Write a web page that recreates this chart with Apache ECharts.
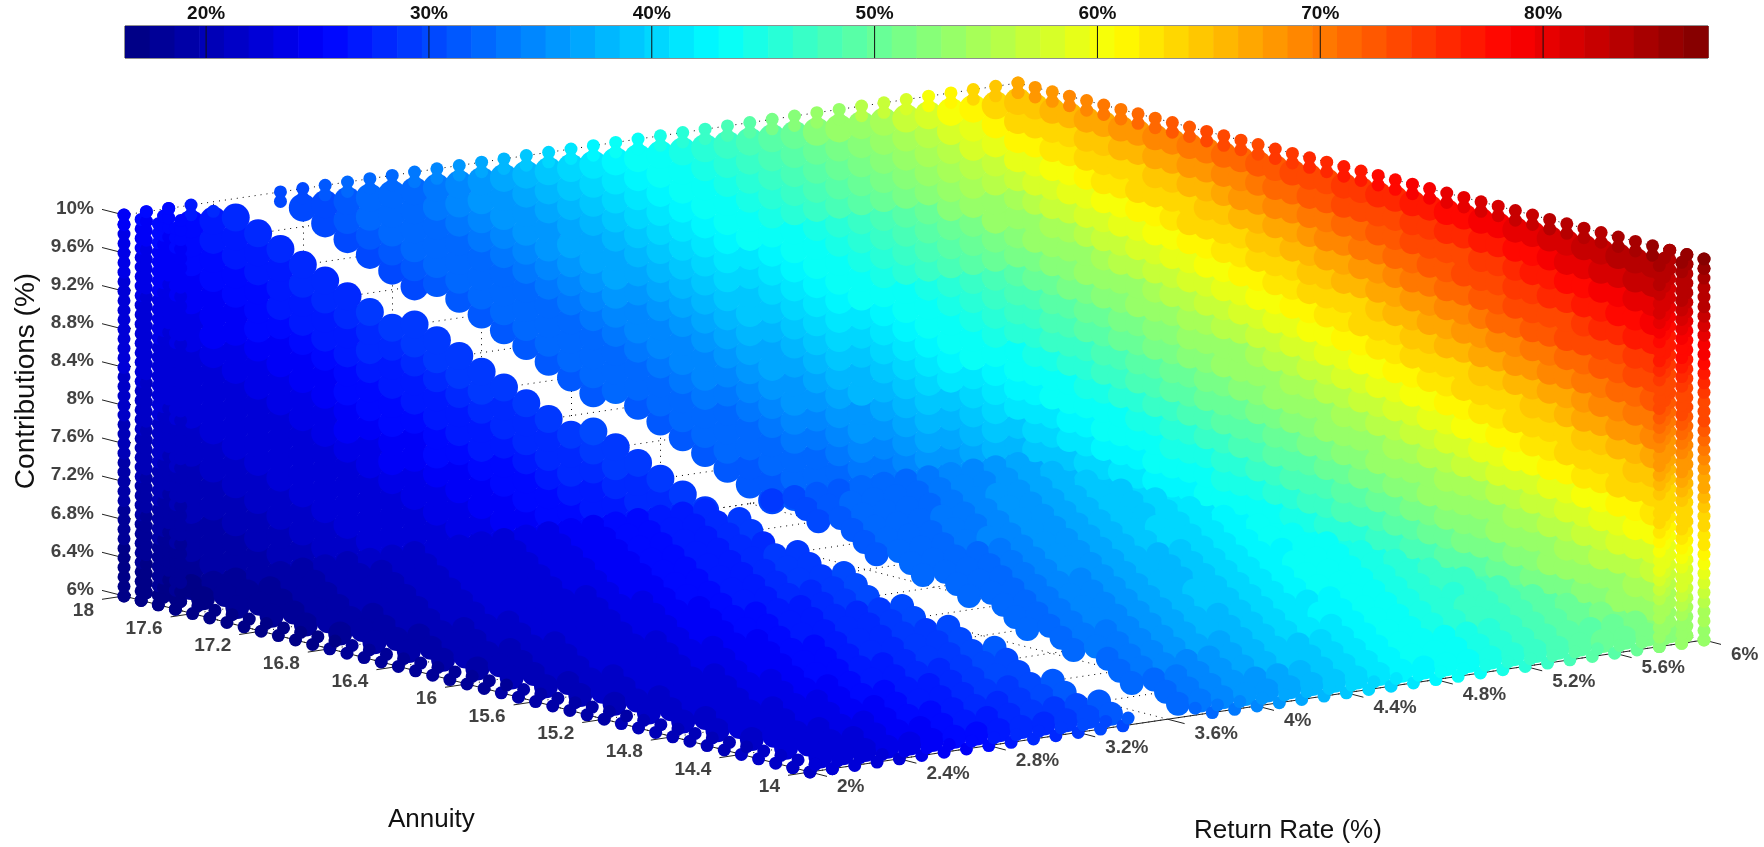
<!DOCTYPE html>
<html><head><meta charset="utf-8"><style>html,body{margin:0;padding:0;background:#fff}#c{width:1764px;height:847px}</style>
<script src="https://cdn.jsdelivr.net/npm/echarts@6/dist/echarts.min.js"></script></head><body><div id="c"></div>
<script>
const annuityTicks=[18,17.6,17.2,16.8,16.4,16,15.6,15.2,14.8,14.4,14];
const returnTicks=[2,2.4,2.8,3.2,3.6,4,4.4,4.8,5.2,5.6,6];
const contribTicks=[6,6.4,6.8,7.2,7.6,8,8.4,8.8,9.2,9.6,10];
const colorbarTicks=[20,30,40,50,60,70,80];
const valueMin=16.36,valueMax=87.4;
// missing band: [contributions, return] on annuity=18 wall and [annuity, return] on floor
const gapOnWall=[[10,2.5],[6,4.78]];
const gapOnFloor=[[14,3.6],[18,4.78]];
// annuity=18 wall: rows contributions 6.0..9.8 step .2, cols return 2.3..6.0 step .1
const wallA=[
[18,18,18,19,19,20,20,21,21,22,22,22,23,23,24,24,25,25,26,26,27,27,28,29,29,30,30,31,32,32,33,33,34,35,35,36,36,37],
[18,19,19,19,20,20,21,21,22,22,23,23,24,24,25,25,26,26,27,27,28,28,29,29,30,31,31,32,33,33,34,34,35,36,36,37,38,38],
[19,19,19,20,20,21,21,22,22,23,23,24,24,25,25,26,26,27,27,28,28,29,30,30,31,31,32,33,33,34,35,35,36,37,37,38,39,39],
[19,19,20,20,21,21,22,22,23,23,24,24,25,25,26,26,27,28,28,29,29,30,31,31,32,32,33,34,34,35,36,36,37,38,38,39,40,41],
[20,20,20,21,21,22,22,23,23,24,24,25,25,26,26,27,28,28,29,29,30,30,31,32,32,33,34,35,35,36,36,37,38,39,39,40,41,42],
[20,20,21,21,22,22,23,23,24,25,25,26,26,27,27,28,28,29,30,30,31,31,32,33,33,34,35,36,36,37,38,38,39,40,41,41,42,43],
[20,21,21,22,22,23,23,24,24,25,25,26,27,27,28,28,29,30,30,31,31,32,33,34,34,35,36,36,37,38,38,39,40,41,42,43,43,44],
[21,21,22,22,23,23,24,25,25,26,26,27,27,28,28,29,30,30,31,32,32,33,34,35,35,36,37,37,38,39,39,40,41,42,43,44,45,46],
[21,22,22,23,23,24,24,25,26,26,27,27,28,29,29,30,30,31,32,32,33,34,35,35,36,37,37,38,39,40,40,41,42,43,44,45,46,47],
[22,22,23,23,24,24,25,26,26,27,27,28,29,29,30,31,31,32,33,33,34,35,35,36,37,38,38,39,40,41,41,42,43,44,45,46,47,48],
[22,23,23,24,24,25,25,26,27,27,28,29,29,30,31,31,32,33,33,34,35,35,36,37,38,39,39,40,41,42,43,43,44,45,46,47,48,49],
[23,23,24,24,25,25,26,27,28,28,29,29,30,31,31,32,33,33,34,35,35,36,37,38,39,39,40,41,42,43,44,45,46,47,48,49,50,51],
[23,24,24,25,25,26,27,27,28,29,29,30,31,31,32,33,33,34,35,36,36,37,38,39,40,40,41,42,43,44,45,46,47,48,49,50,51,52],
[24,25,25,26,26,27,27,28,29,29,30,31,31,32,33,33,34,35,36,37,37,38,39,40,41,41,42,43,44,45,46,47,48,49,50,51,53,54],
[24,25,25,26,27,27,28,28,29,30,30,31,32,33,33,34,35,36,37,37,38,39,40,41,42,43,43,44,45,46,47,48,49,50,52,53,54,55],
[25,25,26,26,27,28,28,29,30,30,31,32,33,33,34,35,36,37,37,38,39,40,41,42,43,44,45,46,47,48,49,50,51,52,53,55,56,57],
[25,26,26,27,27,28,29,30,30,31,32,32,33,34,35,36,36,37,38,39,40,41,42,43,44,45,46,47,48,49,50,51,52,53,55,56,57,59],
[26,26,27,27,28,29,29,30,31,32,32,33,34,35,36,36,37,38,39,40,41,42,43,44,45,46,47,48,49,50,51,52,54,55,56,58,59,61],
[26,27,27,28,29,29,30,31,32,32,33,34,35,36,36,37,38,39,40,41,42,43,44,45,46,47,48,49,50,51,52,54,55,56,58,59,61,63],
[26,27,28,28,29,30,30,31,32,33,33,34,35,36,37,38,39,40,41,42,43,44,45,46,47,48,49,50,52,53,54,55,57,58,60,61,63,65]];
// return=6 wall: rows contributions 6.0..9.8 step .2, cols annuity 18.0..14.3 step -.1
const wallR=[
[37,37,38,38,39,39,39,40,40,41,41,41,42,42,43,43,43,44,44,45,45,45,46,46,47,47,47,48,48,49,49,49,50,50,51,51,51,52],
[38,39,39,39,40,40,41,41,42,42,42,43,43,44,44,44,45,45,46,46,46,47,47,48,48,49,49,49,50,50,51,51,51,52,52,53,53,53],
[39,40,40,41,41,42,42,42,43,43,44,44,45,45,45,46,46,47,47,48,48,48,49,49,50,50,51,51,51,52,52,53,53,54,54,54,55,55],
[41,41,41,42,42,43,43,44,44,45,45,45,46,46,47,47,48,48,48,49,49,50,50,51,51,52,52,52,53,53,54,54,55,55,56,56,56,57],
[42,42,43,43,44,44,44,45,45,46,46,47,47,48,48,49,49,49,50,50,51,51,52,52,53,53,53,54,54,55,55,56,56,57,57,58,58,58],
[43,44,44,44,45,45,46,46,47,47,48,48,49,49,49,50,50,51,51,52,52,53,53,54,54,55,55,55,56,56,57,57,58,58,59,59,60,60],
[44,45,45,46,46,47,47,48,48,49,49,50,50,50,51,51,52,52,53,53,54,54,55,55,56,56,57,57,58,58,58,59,59,60,60,61,61,62],
[46,46,47,47,47,48,48,49,49,50,50,51,51,52,52,53,53,54,54,55,55,56,56,57,57,58,58,59,59,60,60,61,61,62,62,63,63,63],
[47,47,48,48,49,49,50,50,51,51,52,52,53,53,54,54,55,55,56,56,57,57,58,58,59,59,60,60,61,61,62,62,63,63,64,64,65,65],
[48,48,49,49,50,50,51,51,52,52,53,53,54,54,55,56,56,57,57,58,58,59,59,60,60,61,61,62,62,63,63,64,64,65,65,66,66,67],
[49,50,50,51,51,52,52,53,54,54,55,55,56,56,57,57,58,58,59,59,60,60,61,61,62,62,63,63,64,64,65,65,66,67,67,68,68,69],
[51,51,52,52,53,53,54,54,55,56,56,57,57,58,58,59,59,60,60,61,61,62,62,63,63,64,64,65,65,66,66,67,67,68,69,69,70,70],
[52,53,53,54,54,55,56,56,57,57,58,58,59,59,60,60,61,61,62,62,63,63,64,65,65,66,66,67,67,68,68,69,69,70,70,71,71,72],
[54,54,55,55,56,57,57,58,58,59,59,60,60,61,61,62,62,63,63,64,64,65,66,66,67,67,68,68,69,69,70,70,71,71,72,72,73,73],
[55,56,57,57,58,58,59,59,60,60,61,61,62,62,63,64,64,65,65,66,66,67,67,68,68,69,69,70,71,71,72,72,73,73,74,74,75,75],
[57,58,58,59,59,60,60,61,61,62,63,63,64,64,65,65,66,66,67,67,68,68,69,70,70,71,71,72,72,73,73,74,74,75,76,76,77,77],
[59,59,60,60,61,62,62,63,63,64,64,65,65,66,66,67,67,68,69,69,70,70,71,71,72,72,73,73,74,75,75,76,76,77,77,78,78,79],
[61,61,62,62,63,63,64,64,65,65,66,66,67,68,68,69,69,70,70,71,71,72,72,73,73,74,74,75,75,76,77,77,78,78,79,79,80,80],
[63,63,64,64,65,65,66,66,67,67,68,68,69,69,70,71,71,72,72,73,73,74,74,75,75,76,76,77,77,78,78,79,80,80,81,81,82,82],
[65,65,66,66,67,67,68,68,69,69,70,70,71,71,72,72,73,73,74,75,75,76,76,77,77,78,78,79,79,80,80,81,81,82,82,83,83,84]];
// floor contributions=6: rows annuity 18.0..14.2 step -.2, cols return 2.2..6.0 step .1
const floorC=[
[17,17,18,18,19,19,19,20,20,21,21,21,22,22,23,23,24,24,25,25,26,26,27,27,28,28,29,29,30,31,31,32,32,33,34,35,35,36,37],
[17,18,18,18,19,19,20,20,20,21,21,22,22,23,23,24,24,25,25,26,26,27,27,28,29,29,30,30,31,32,32,33,33,34,35,35,36,37,38],
[18,18,18,19,19,20,20,20,21,21,22,22,23,23,24,24,25,25,26,26,27,27,28,29,29,30,30,31,32,32,33,33,34,35,36,36,37,38,39],
[18,18,19,19,20,20,20,21,21,22,22,23,23,24,24,25,25,26,26,27,27,28,28,29,30,30,31,32,32,33,34,34,35,36,36,37,38,39,39],
[18,19,19,19,20,20,21,21,22,22,23,23,24,24,25,25,26,26,27,27,28,29,29,30,31,31,32,32,33,34,34,35,36,36,37,38,39,39,40],
[18,19,19,20,20,21,21,22,22,22,23,23,24,25,25,26,26,27,27,28,29,29,30,30,31,32,32,33,34,35,35,36,36,37,38,39,39,40,41],
[19,19,19,20,20,21,21,22,22,23,23,24,24,25,26,26,27,27,28,29,29,30,30,31,32,32,33,33,34,35,36,36,37,38,39,40,40,41,42],
[19,19,20,20,21,21,22,22,23,23,24,24,25,25,26,27,27,28,28,29,30,30,31,32,32,33,33,34,35,36,36,37,38,39,40,40,41,42,43],
[19,20,20,20,21,21,22,22,23,24,24,25,25,26,26,27,27,28,29,30,30,31,31,32,33,33,34,35,36,36,37,38,38,39,40,41,42,43,43],
[19,20,20,21,21,22,22,23,23,24,25,25,26,26,27,27,28,28,29,30,31,31,32,33,33,34,35,35,36,37,38,38,39,40,41,42,42,43,44],
[20,20,21,21,22,22,23,23,24,24,25,25,26,27,27,28,28,29,30,30,31,32,32,33,34,35,35,36,37,38,38,39,40,41,42,43,43,44,45],
[20,20,21,21,22,23,23,24,24,25,25,26,26,27,28,28,29,29,30,31,32,32,33,34,35,35,36,37,38,39,39,40,41,42,43,43,44,45,46],
[20,21,21,22,22,23,23,24,25,25,26,26,27,28,28,29,29,30,31,32,32,33,34,35,35,36,37,38,39,39,40,41,42,43,43,44,45,46,47],
[20,21,21,22,23,23,24,24,25,26,26,27,27,28,29,29,30,31,31,32,33,34,34,35,36,37,38,38,39,40,41,41,42,43,44,45,46,47,47],
[21,21,22,22,23,24,24,25,25,26,27,27,28,28,29,30,30,31,32,33,34,34,35,36,37,38,38,39,40,41,42,42,43,44,45,46,46,47,48],
[21,21,22,23,23,24,24,25,26,26,27,27,28,29,30,30,31,32,32,33,34,35,36,37,37,38,39,40,41,41,42,43,44,45,46,47,47,48,49],
[21,22,22,23,24,24,25,25,26,27,27,28,29,29,30,31,31,32,33,34,35,35,36,37,38,39,39,40,41,42,43,44,45,46,47,47,48,49,50],
[21,22,22,23,24,24,25,26,26,27,28,28,29,30,31,31,32,33,33,34,35,36,37,38,39,39,40,41,42,43,43,44,45,46,47,48,49,50,51],
[22,22,23,23,24,25,25,26,27,27,28,29,29,30,31,32,32,33,34,35,36,36,37,38,39,40,41,42,43,43,44,45,46,47,48,49,49,50,51],
[22,22,23,24,24,25,26,26,27,28,28,29,30,31,31,32,33,34,35,36,36,37,38,39,40,41,42,42,43,44,45,46,47,48,49,50,50,51,52]];
// outline rows, 41 points each
const topRowA=[25,26,26,27,28,28,29,30,30,31,32,33,33,34,35,36,37,38,39,40,41,42,43,44,45,46,47,48,49,51,52,53,54,56,57,58,60,61,63,65,67];
const topRowR=[67,68,68,69,69,70,70,71,71,72,72,73,73,74,74,75,75,76,76,77,77,78,78,79,79,80,80,81,81,82,82,83,83,84,84,85,85,86,86,87,87];
const bottomRowA=[16,17,17,17,17,17,17,17,17,17,17,17,18,18,18,18,18,18,18,18,18,18,19,19,19,19,19,19,19,20,20,20,20,20,20,20,21,21,21,21,21];
const bottomRowR=[21,22,22,23,23,24,25,25,26,27,28,28,29,30,30,31,32,33,33,34,35,36,37,38,39,40,40,41,42,43,44,45,46,47,48,49,49,50,51,52,53];
// outline columns, contributions 6..10 step .1
const leftCol1=[16,17,17,17,17,17,18,18,18,18,19,19,19,19,19,20,20,20,20,21,21,21,21,21,22,22,22,22,22,23,23,23,23,23,24,24,24,24,24,25,25];
const leftCol2=[17,17,17,17,18,18,18,18,18,19,19,19,19,20,20,20,20,20,21,21,21,21,21,22,22,22,22,23,23,23,23,23,24,24,24,24,24,25,25,25,26];
const leftCol3=[17,17,18,18,18,18,18,19,19,19,19,20,20,20,20,21,21,21,21,21,22,22,22,22,23,23,23,23,24,24,24,24,24,25,25,25,25,25,26,26,26];
const rightCol1=[53,54,55,55,56,57,58,59,60,61,62,62,63,64,65,66,67,67,68,69,70,71,72,73,73,74,75,76,77,78,79,79,80,81,82,83,84,84,85,86,87];
const rightCol2=[53,53,54,55,56,57,58,58,59,60,61,62,63,63,64,65,66,67,68,68,69,70,71,72,73,73,74,75,76,77,78,78,79,80,81,82,83,83,84,85,86];
const rightCol3=[52,53,54,55,55,56,57,58,59,59,60,61,62,63,64,64,65,66,67,68,68,69,70,71,72,73,73,74,75,76,77,77,78,79,80,81,81,82,83,84,85];

const FONT='"Liberation Sans",Arial,sans-serif';
function project(a,r,c){const u=(18-a)/4,t=(r-2)/4,h=(c-6)/4;return [124+686*u+894*t,596+176*u-132*t-381*h];}
function jet(i){const p=(i+.5)/64;const f=x=>Math.round(255*Math.max(0,Math.min(1,x)));
 return 'rgb('+f(Math.min(4*p-1.5,-4*p+4.5))+','+f(Math.min(4*p-.5,-4*p+3.5))+','+f(Math.min(4*p+.5,-4*p+2.5))+')';}
const palette=Array.from({length:64},(_,i)=>jet(i));
const levelW=(valueMax-valueMin)/64;
const pieces=palette.map((color,i)=>({gte:i?valueMin+i*levelW:0,lt:i<63?valueMin+(i+1)*levelW:200,color}));
const lerpGap=(tbl,q)=>{const[a,b]=tbl;return a[1]+(b[1]-a[1])*(q-a[0])/(b[0]-a[0]);};
const HW_FACE=.11,HW_EDGE=.165;
const inWallGap=(r,c,hw)=>Math.abs(r-lerpGap(gapOnWall,c))<hw;
const inFloorGap=(a,r,hw)=>Math.abs(r-lerpGap(gapOnFloor,a))<hw;
const rnd=x=>Math.round(x*10)/10;
function pts(list){return list.map(([a,r,c,v])=>[...project(a,r,c),v]);}
const wallAPts=[],wallRPts=[],floorPts=[],edgePts=[];
wallA.forEach((row,i)=>row.forEach((v,j)=>{const c=rnd(6+.2*i),r=rnd(2.3+.1*j);if(!inWallGap(r,c,HW_FACE))wallAPts.push([18,r,c,v]);}));
wallR.forEach((row,i)=>row.forEach((v,j)=>{wallRPts.push([rnd(18-.1*j),6,rnd(6+.2*i),v]);}));
floorC.forEach((row,i)=>row.forEach((v,j)=>{const a=rnd(18-.2*i),r=rnd(2.2+.1*j);if(!inFloorGap(a,r,HW_FACE))floorPts.push([a,r,6,v]);}));
[10,9.9].forEach((c,n)=>topRowA.forEach((v,k)=>{const r=rnd(2+.1*k);if(!inWallGap(r,c,n?HW_FACE:HW_EDGE))edgePts.push([18,r,c,v]);}));
[10,9.9].forEach(c=>topRowR.forEach((v,k)=>edgePts.push([rnd(18-.1*k),6,c,v])));
[2,2.1].forEach(r=>bottomRowA.forEach((v,k)=>edgePts.push([rnd(18-.1*k),r,6,v])));
[14,14.1].forEach((a,n)=>bottomRowR.forEach((v,k)=>{const r=rnd(2+.1*k);if(!inFloorGap(a,r,n?HW_FACE:HW_EDGE))edgePts.push([a,r,6,v]);}));
const col=(arr,a,r)=>arr.forEach((v,m)=>edgePts.push([a,r,rnd(6+.1*m),v]));
col(leftCol1,18,2);col(leftCol2,17.9,2);col(leftCol2,18,2.1);col(leftCol3,17.8,2);col(leftCol3,17.9,2.1);col(leftCol3,18,2.2);col(leftCol3,17.7,2);col(leftCol3,17.8,2.1);
col(rightCol1,14,6);col(rightCol2,14.1,6);col(rightCol2,14,5.9);col(rightCol3,14.2,6);col(rightCol3,14.1,5.9);col(rightCol3,14,5.8);
const seg=(p,q)=>({coords:[project(...p),project(...q)]});
const grid=[];
contribTicks.forEach(c=>{grid.push(seg([18,2,c],[18,6,c]),seg([18,6,c],[14,6,c]));});
returnTicks.forEach(r=>{grid.push(seg([18,r,6],[18,r,10]),seg([18,r,6],[14,r,6]));});
annuityTicks.forEach(a=>{grid.push(seg([a,6,6],[a,6,10]),seg([a,2,6],[a,6,6]));});
const axisLines=[seg([18,2,6],[14,2,6]),seg([14,2,6],[14,6,6]),seg([18,2,6],[18,2,10])];
const offs=(p,dx,dy)=>{const q=project(...p);return [[q[0],q[1]],[q[0]+dx,q[1]+dy]];};
contribTicks.forEach(c=>axisLines.push({coords:offs([18,2,c],-22,-5.6)}));
annuityTicks.forEach(a=>axisLines.push({coords:offs([a,2,6],-22,3.3)}));
returnTicks.forEach(r=>axisLines.push({coords:offs([14,r,6],17,4.4)}));
const labelSeries=(items,align)=>({type:'scatter',xAxisIndex:0,yAxisIndex:0,symbolSize:1,itemStyle:{color:'transparent'},silent:true,z:9,
 data:items.map(([p,dx,dy,t])=>{const q=project(...p);return {value:[q[0]+dx,q[1]+dy],name:t};}),
 label:{show:true,position:'inside',align,verticalAlign:'middle',formatter:'{b}',color:'#111',fontFamily:FONT,fontSize:19,fontWeight:'bold'}});
const dots=(list,size,z)=>({type:'scatter',xAxisIndex:0,yAxisIndex:0,symbol:'circle',symbolSize:size,silent:true,z,progressive:0,itemStyle:{opacity:1},data:pts(list),encode:{x:0,y:1}});
const chart=echarts.init(document.getElementById('c'),null,{renderer:'canvas'});
chart.setOption({animation:false,backgroundColor:'#fff',
 grid:[{left:0,top:0,width:1764,height:847},{left:125,top:26,width:1583,height:32,show:true,borderColor:'#222',borderWidth:1,backgroundColor:'#fff'}],
 xAxis:[{type:'value',min:0,max:1764,show:false},
  {gridIndex:1,type:'value',min:valueMin,max:valueMax,position:'top',axisLine:{show:false},splitLine:{show:false},axisTick:{show:false},
   axisLabel:{show:true,customValues:colorbarTicks,formatter:'{value}%',margin:3,color:'#111',fontFamily:FONT,fontSize:19,fontWeight:'bold'}}],
 yAxis:[{type:'value',min:0,max:847,inverse:true,show:false},{gridIndex:1,type:'value',min:0,max:1,show:false}],
 visualMap:{type:'piecewise',show:false,dimension:2,seriesIndex:[4,5,6,7],pieces},
 series:[
  {type:'lines',coordinateSystem:'cartesian2d',xAxisIndex:0,yAxisIndex:0,silent:true,z:1,data:grid,lineStyle:{color:'#000',width:1,type:[1,5],opacity:1}},
  {type:'lines',coordinateSystem:'cartesian2d',xAxisIndex:0,yAxisIndex:0,silent:true,z:1,data:axisLines,lineStyle:{color:'#222',width:1,opacity:1}},
  {type:'custom',xAxisIndex:1,yAxisIndex:1,silent:true,z:2,clip:false,data:palette.map((_,i)=>[valueMin+i*levelW,valueMin+(i+1)*levelW,i]),
   renderItem:(p,api)=>{const a=api.coord([api.value(0),0]),b=api.coord([api.value(1),1]);
    return {type:'rect',shape:{x:a[0],y:b[1],width:b[0]-a[0]+.6,height:a[1]-b[1]},style:{fill:palette[api.value(2)]}};}},
  {type:'custom',xAxisIndex:1,yAxisIndex:1,silent:true,z:3,clip:false,data:colorbarTicks.map(v=>[v]),encode:{x:0},
   renderItem:(p,api)=>{const a=api.coord([api.value(0),0]),b=api.coord([api.value(0),1]);
    return {type:'line',shape:{x1:a[0],y1:a[1],x2:b[0],y2:b[1]},style:{stroke:'#111',lineWidth:1}};}},
  dots(wallAPts,28,3),dots(wallRPts,26,3),dots(floorPts,24,4),dots(edgePts,13,5),
  labelSeries(contribTicks.map(c=>[[18,2,c],-30,-6.5,c+'%']),'right'),
  labelSeries(annuityTicks.map(a=>[[a,2,6],-30,15,String(a)]),'right'),
  labelSeries(returnTicks.map(r=>[[14,r,6],27,15,r+'%']),'left')
 ],
 graphic:[
  {type:'text',left:388,top:807,style:{text:'Annuity',font:'26px '+FONT,fill:'#111'}},
  {type:'text',left:1194,top:818,style:{text:'Return Rate (%)',font:'26px '+FONT,fill:'#111'}},
  {type:'text',x:26,y:381,rotation:Math.PI/2,style:{text:'Contributions (%)',font:'28px '+FONT,fill:'#111',align:'center',verticalAlign:'middle'}}
 ]});
</script></body></html>
